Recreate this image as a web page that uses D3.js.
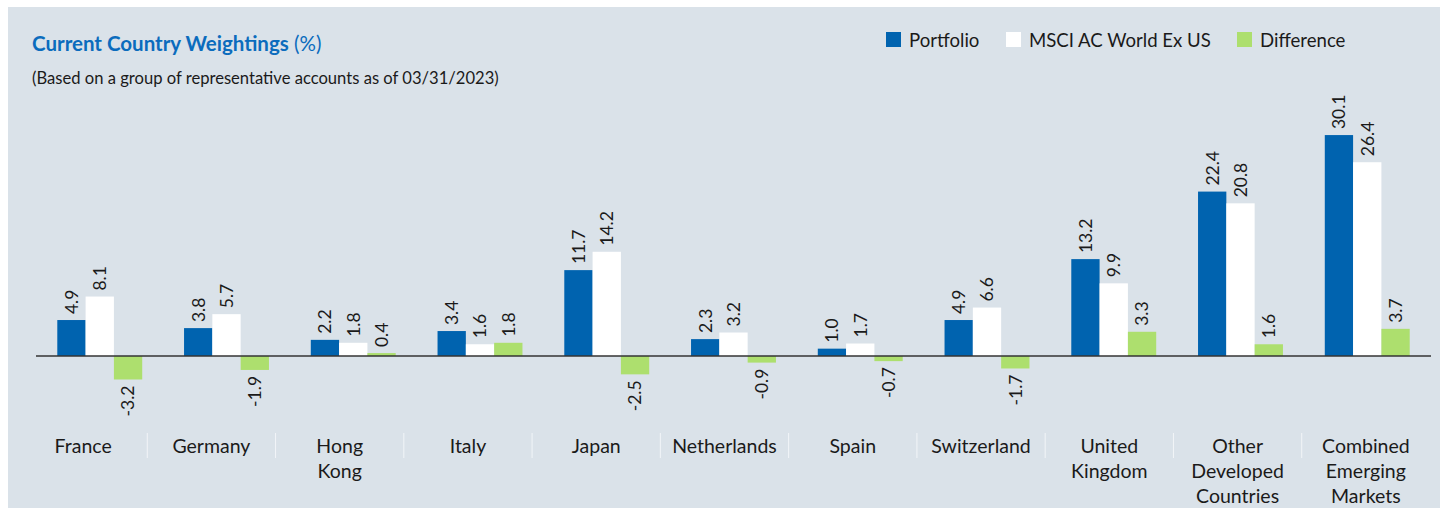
<!DOCTYPE html>
<html>
<head>
<meta charset="utf-8">
<script src="https://cdn.jsdelivr.net/npm/d3@7"></script>
<style>
  body { margin: 0; background: #fff; }
  svg { display: block; font-family: Lato, "Open Sans", sans-serif; }
</style>
</head>
<body>
<div id="chart-area"></div>
<script>
var categories = ['France', 'Germany', 'Hong Kong', 'Italy', 'Japan', 'Netherlands', 'Spain',
  'Switzerland', 'United Kingdom', 'Other Developed Countries', 'Combined Emerging Markets'];
// how the category names wrap under the axis
var categoryLines = [['France'], ['Germany'], ['Hong', 'Kong'], ['Italy'], ['Japan'], ['Netherlands'],
  ['Spain'], ['Switzerland'], ['United', 'Kingdom'], ['Other', 'Developed', 'Countries'],
  ['Combined', 'Emerging', 'Markets']];
var seriesNames = ['Portfolio', 'MSCI AC World Ex US', 'Difference'];
var portfolio = [4.9, 3.8, 2.2, 3.4, 11.7, 2.3, 1.0, 4.9, 13.2, 22.4, 30.1];
var msci = [8.1, 5.7, 1.8, 1.6, 14.2, 3.2, 1.7, 6.6, 9.9, 20.8, 26.4];
var difference = [-3.2, -1.9, 0.4, 1.8, -2.5, -0.9, -0.7, -1.7, 3.3, 1.6, 3.7];

var colors = ['#0063af', '#ffffff', '#addf6e'];
var width = 1440, height = 508;

// plain hyphen for negatives, like the original
var fmt = d3.formatLocale({ decimal: '.', thousands: ',', grouping: [3], currency: ['', ''], minus: '-' })
  .format('.1f');

var svg = d3.select('#chart-area')
  .append('svg')
    .attr('width', width)
    .attr('height', height);

// panel background
svg.append('rect')
  .attr('x', 8)
  .attr('y', 7)
  .attr('width', width - 8)
  .attr('height', height - 7)
  .attr('fill', '#dae2e9');

// title
var title = svg.append('text')
  .attr('x', 32)
  .attr('y', 51)
  .attr('fill', '#0b6cbd')
  .attr('font-size', '20.5px');
title.append('tspan').attr('font-weight', 'bold').text('Current Country Weightings');
title.append('tspan').text(' (%)');

svg.append('text')
  .attr('x', 32)
  .attr('y', 84)
  .attr('fill', '#1a1a1a')
  .attr('font-size', '16.6px')
  .text('(Based on a group of representative accounts as of 03/31/2023)');

// legend
var legendX = [886, 1006, 1237];
var legend = svg.selectAll('.legend')
  .data(seriesNames)
  .enter()
  .append('g')
    .attr('class', 'legend')
    .attr('transform', (d, i) => 'translate(' + legendX[i] + ', 32)');
legend.append('rect')
  .attr('width', 15)
  .attr('height', 15)
  .attr('fill', (d, i) => colors[i]);
legend.append('text')
  .attr('x', 23)
  .attr('y', 14.5)
  .attr('font-size', '18.6px')
  .attr('fill', '#1a1a1a')
  .text(d => d);

// scales
var xScale = d3.scaleBand()
  .domain(categories)
  .range([36, 1431])
  .paddingInner(0.33)
  .paddingOuter(0.168);

var xSub = d3.scaleBand()
  .domain(seriesNames)
  .range([0, xScale.bandwidth()]);

var xLabel = d3.scaleBand()
  .domain(categories)
  .range([19, 1430]);

var yScale = d3.scaleLinear()
  .domain([-10, 35])
  .range([356 + 73.4, 356 - 256.9]);

var rows = categories.map((c, i) => ({
  category: c,
  values: [portfolio[i], msci[i], difference[i]]
}));

var groups = svg.selectAll('.group')
  .data(rows)
  .enter()
  .append('g')
    .attr('class', 'group')
    .attr('transform', d => 'translate(' + xScale(d.category) + ', 0)');

var cells = groups.selectAll('.cell')
  .data(d => d.values.map((v, i) => ({ series: seriesNames[i], value: v, i: i })))
  .enter()
  .append('g')
    .attr('class', 'cell');

cells.append('rect')
  .attr('x', d => xSub(d.series))
  .attr('y', d => yScale(Math.max(0, d.value)))
  .attr('width', xSub.bandwidth())
  .attr('height', d => Math.abs(yScale(d.value) - yScale(0)))
  .attr('fill', d => colors[d.i]);

cells.append('text')
  .attr('transform', d => {
    var x = xSub(d.series) + xSub.bandwidth() / 2;
    var y = d.value >= 0 ? yScale(d.value) - 6 : yScale(d.value) + 6;
    return 'translate(' + x + ', ' + y + ') rotate(-90)';
  })
  .attr('dy', '0.36em')
  .attr('text-anchor', d => d.value >= 0 ? 'start' : 'end')
  .attr('font-size', '17.5px')
  .attr('fill', '#1a1a1a')
  .text(d => fmt(d.value));

// zero line
svg.append('line')
  .attr('x1', 36)
  .attr('x2', 1431)
  .attr('y1', yScale(0))
  .attr('y2', yScale(0))
  .attr('stroke', '#333')
  .attr('stroke-width', 1.5);

// category axis
var xAxisGroup = svg.append('g')
  .attr('class', 'x-axis')
  .attr('transform', 'translate(0, 433)')
  .call(d3.axisBottom(xLabel).tickSize(0).tickFormat(''));
xAxisGroup.select('.domain').remove();

xAxisGroup.selectAll('.tick text')
  .attr('y', 0)
  .attr('dy', 0)
  .attr('font-size', '19.5px')
  .attr('font-family', 'Lato, "Open Sans", sans-serif')
  .attr('fill', '#1a1a1a')
  .each(function(d, i) {
    d3.select(this).selectAll('tspan')
      .data(categoryLines[i])
      .enter()
      .append('tspan')
        .attr('x', 0)
        .attr('y', (l, j) => 20 + j * 25)
        .text(l => l);
  });

// separators between category labels
xAxisGroup.selectAll('.sep')
  .data(categories.slice(1))
  .enter()
  .append('line')
    .attr('class', 'sep')
    .attr('x1', d => xLabel(d))
    .attr('x2', d => xLabel(d))
    .attr('y1', 0)
    .attr('y2', 25)
    .attr('stroke', '#f2f5f8')
    .attr('stroke-width', 1);
</script>
</body>
</html>
